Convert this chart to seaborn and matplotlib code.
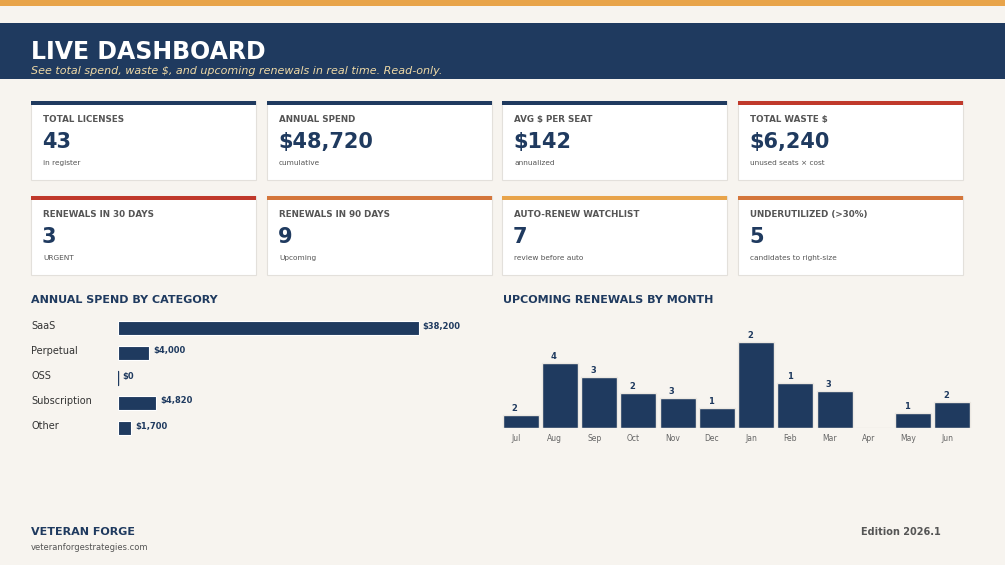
import matplotlib
matplotlib.use("Agg")
import matplotlib.pyplot as plt
from matplotlib.patches import Rectangle
from matplotlib.transforms import blended_transform_factory, ScaledTranslation
import pandas as pd
import seaborn as sns

# data
kpi_labels = ["TOTAL LICENSES", "ANNUAL SPEND", "AVG $ PER SEAT", "TOTAL WASTE $",
              "RENEWALS IN 30 DAYS", "RENEWALS IN 90 DAYS", "AUTO-RENEW WATCHLIST", "UNDERUTILIZED (>30%)"]
kpi_values = ["43", "$48,720", "$142", "$6,240", "3", "9", "7", "5"]
kpi_notes = ["in register", "cumulative", "annualized", "unused seats \u00d7 cost",
             "URGENT", "Upcoming", "review before auto", "candidates to right-size"]
kpi_accents = ["navy", "navy", "navy", "red", "red", "orange", "gold", "orange"]

categories = ["SaaS", "Perpetual", "OSS", "Subscription", "Other"]
category_spend = [38200, 4000, 0, 4820, 1700]

months = ["Jul", "Aug", "Sep", "Oct", "Nov", "Dec", "Jan", "Feb", "Mar", "Apr", "May", "Jun"]
renewal_spend = [1540, 7530, 5910, 4060, 3480, 2270, 10000, 5170, 4240, 0, 1740, 3010]
renewal_counts = [2, 4, 3, 2, 3, 1, 2, 1, 3, 0, 1, 2]

NAVY = "#1F3A5F"
BG = "#F7F4EF"
colors = {"navy": NAVY, "red": "#C0392B", "orange": "#D4763B", "gold": "#E8A44A"}

sns.set_theme(style="white")
plt.rcParams["font.family"] = ["DejaVu Sans"]

W, H = 1005, 565
fig = plt.figure(figsize=(W / 100, H / 100), dpi=100, facecolor=BG)


def fx(x):
    return x / W


def fy(y):
    return 1 - y / H


def rect(x0, y0, x1, y1, color, **kw):
    fig.patches.append(Rectangle((fx(x0), fy(y1)), fx(x1 - x0), (y1 - y0) / H,
                                 transform=fig.transFigure, facecolor=color, **kw))


# header
rect(0, 0, W, 6, colors["gold"], linewidth=0)
rect(0, 23, W, 79, NAVY, linewidth=0)
fig.text(fx(31), fy(52), "LIVE DASHBOARD", color="white", fontsize=17, fontweight="bold", va="center")
fig.text(fx(31), fy(71), "See total spend, waste $, and upcoming renewals in real time. Read-only.",
         color="#EED9A6", fontsize=8, style="italic", va="center")

# kpi cards
col_x = [31, 267, 502, 738]
row_y = [101, 196]
for i, lab in enumerate(kpi_labels):
    x0 = col_x[i % 4]
    y0 = row_y[i // 4]
    rect(x0, y0, x0 + 225, y0 + 79, "white", edgecolor="#E3E0DB", linewidth=0.8)
    rect(x0, y0, x0 + 225, y0 + 4, colors[kpi_accents[i]], linewidth=0)
    fig.text(fx(x0 + 12), fy(y0 + 18.5), lab, color="#555555", fontsize=6.3, fontweight="bold", va="center")
    fig.text(fx(x0 + 11), fy(y0 + 41), kpi_values[i], color=NAVY, fontsize=15, fontweight="bold", va="center")
    fig.text(fx(x0 + 12), fy(y0 + 62), kpi_notes[i], color="#555555", fontsize=5.3, va="center")

# annual spend by category
fig.text(fx(31), fy(300), "ANNUAL SPEND BY CATEGORY", color=NAVY, fontsize=8, fontweight="bold", va="center")
ax1 = fig.add_axes([fx(118), fy(440.5), fx(350), 125 / H])
df_cat = pd.DataFrame({"category": categories, "spend": category_spend})
sns.barplot(data=df_cat, y="category", x="spend", orient="h", color=NAVY, width=0.58, saturation=1,
            edgecolor="white", linewidth=0.8, ax=ax1)
ax1.set_xlim(0, 38200 * 350 / 300.6)
ax1.set_ylim(4.5, -0.5)
ax1.axis("off")
trans = blended_transform_factory(fig.transFigure, ax1.transData)
for i, (c, v) in enumerate(zip(categories, category_spend)):
    ax1.text(fx(31), i - 0.08, c, transform=trans, color="#333333", fontsize=7, va="center")
    ax1.text(v + 500, i - 0.08, f"${v:,.0f}", color=NAVY, fontsize=6, fontweight="bold", va="center")
# thin line for the zero bar
ax1.plot([0, 0], [2 - 0.29, 2 + 0.29], color=NAVY, lw=1)

# upcoming renewals by month
fig.text(fx(503), fy(300), "UPCOMING RENEWALS BY MONTH", color=NAVY, fontsize=8, fontweight="bold", va="center")
ax2 = fig.add_axes([fx(501), fy(428), fx(471), 108 / H])
ax2.set_facecolor(BG)
df_mon = pd.DataFrame({"month": months, "spend": renewal_spend})
sns.barplot(data=df_mon, x="month", y="spend", color=NAVY, width=0.92, saturation=1,
            edgecolor="#ECE8E2", linewidth=1, ax=ax2)
ax2.set_xlim(-0.5, 11.5)
ax2.set_ylim(0, 10000 * 108 / 86.3)
for s in ax2.spines.values():
    s.set_visible(False)
ax2.set_yticks([])
ax2.set_xlabel("")
ax2.set_ylabel("")
ax2.tick_params(axis="x", length=0, pad=4, labelsize=5.5, labelcolor="#666666")
shift = ScaledTranslation(-5 / 100, 0, fig.dpi_scale_trans)
for lbl in ax2.get_xticklabels():
    lbl.set_transform(lbl.get_transform() + shift)
for i, (v, n) in enumerate(zip(renewal_spend, renewal_counts)):
    if v > 0:
        ax2.text(i - 0.15, v + 250, str(n), color=NAVY, fontsize=6, fontweight="bold",
                 ha="center", va="bottom")

# footer
fig.text(fx(31), fy(532), "VETERAN FORGE", color=NAVY, fontsize=8, fontweight="bold", va="center")
fig.text(fx(31), fy(548), "veteranforgestrategies.com", color="#555555", fontsize=6, va="center")
fig.text(fx(941), fy(532), "Edition 2026.1", color="#555555", fontsize=7, fontweight="bold",
         va="center", ha="right")

fig.savefig("out.png", dpi=100, facecolor=BG)
